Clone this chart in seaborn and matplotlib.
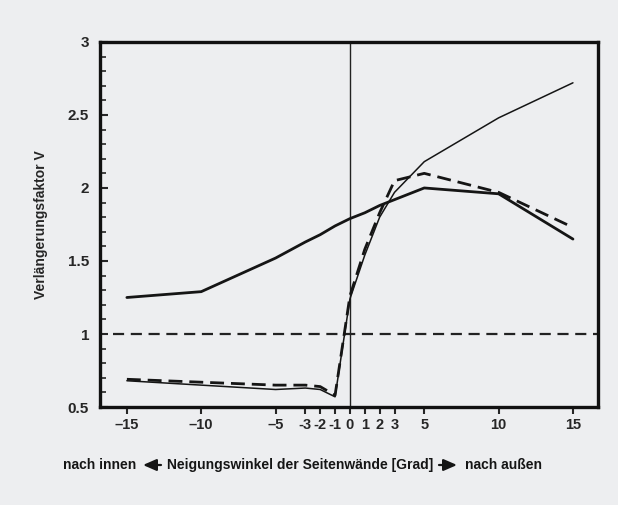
import matplotlib
matplotlib.use("Agg")
import matplotlib.pyplot as plt
from matplotlib.patches import FancyArrowPatch
from matplotlib.ticker import MultipleLocator
import pandas as pd
import seaborn as sns

# Neigungswinkel [Grad]
winkel = [-15, -10, -5, -3, -2, -1, 0, 1, 2, 3, 5, 10, 15]

# Verlaengerungsfaktor V
v_dick = [1.25, 1.29, 1.52, 1.63, 1.68, 1.74, 1.79, 1.83, 1.88, 1.92, 2.00, 1.96, 1.65]
v_duenn = [0.68, 0.65, 0.62, 0.63, 0.62, 0.57, 1.24, 1.54, 1.80, 1.97, 2.18, 2.48, 2.72]
v_gestr = [0.69, 0.67, 0.65, 0.65, 0.64, 0.58, 1.26, 1.58, 1.83, 2.05, 2.10, 1.97, 1.73]

tick_pos = [-15, -10, -5, -3, -2, -1, 0, 1, 2, 3, 5, 10, 15]
tick_lab = ['\u201315', '\u201310', '\u20135', '-3', '-2', '-1',
            '0', '1', '2', '3', '5', '10', '15']

df = pd.DataFrame({'winkel': winkel, 'dick': v_dick, 'duenn': v_duenn, 'gestr': v_gestr})

sns.set_style("ticks")
plt.rcParams['font.family'] = ['Liberation Sans', 'DejaVu Sans']
bg = '#edeef0'
ink = '#151515'

fig = plt.figure(figsize=(6.18, 5.05), dpi=100, facecolor=bg)
ax = fig.add_axes([0.162, 0.194, 0.806, 0.723])
ax.set_facecolor(bg)

# reference lines
ax.axvline(0, color='#222222', lw=1.0, zorder=1)
ax.axhline(1, xmin=0.025, xmax=1, color='#222222', lw=1.6, ls=(0, (5, 3)), zorder=1)

sns.lineplot(data=df, x='winkel', y='dick', ax=ax, color=ink, lw=2.0)
sns.lineplot(data=df, x='winkel', y='duenn', ax=ax, color=ink, lw=1.1)
sns.lineplot(data=df, x='winkel', y='gestr', ax=ax, color=ink, lw=2.0,
             linestyle=(0, (5, 2.5)))

ax.set_xlim(-16.8, 16.7)
ax.set_ylim(0.5, 3)
ax.set_xticks(tick_pos)
ax.set_xticklabels(tick_lab, fontweight='bold', fontsize=10.5)
ax.set_yticks([0.5, 1, 1.5, 2, 2.5, 3])
ax.set_yticklabels(['0.5', '1', '1.5', '2', '2.5', '3'], fontweight='bold', fontsize=11)
ax.yaxis.set_minor_locator(MultipleLocator(0.1))
ax.tick_params(axis='y', which='major', direction='in', length=6, width=1.5, pad=8)
ax.tick_params(axis='y', which='minor', direction='in', length=4, width=1.2)
ax.tick_params(axis='x', which='major', direction='out', length=5, width=1.5, pad=3)
for s in ax.spines.values():
    s.set_linewidth(2.4)
    s.set_color('#111111')

ax.set_xlabel('')
ax.set_ylabel('Verlängerungsfaktor V', fontweight='bold', fontsize=10, labelpad=14)

# x axis caption with arrows
W, H = 618, 505
yc = 1 - 465 / H
fig.text(136 / W, yc, 'nach innen', ha='right', va='center', fontsize=10,
         fontweight='bold', color=ink)
fig.text(300 / W, yc, 'Neigungswinkel der Seitenwände [Grad]', ha='center', va='center',
         fontsize=10, fontweight='bold', color=ink)
fig.text(465 / W, yc, 'nach außen', ha='left', va='center', fontsize=10,
         fontweight='bold', color=ink)
arrow = dict(arrowstyle='-|>,head_length=0.8,head_width=0.35', color=ink, lw=1.6,
             shrinkA=0, shrinkB=0, mutation_scale=10, transform=fig.transFigure)
fig.add_artist(FancyArrowPatch((161 / W, yc), (143 / W, yc), **arrow))
fig.add_artist(FancyArrowPatch((439 / W, yc), (457 / W, yc), **arrow))

fig.savefig('out.png', dpi=100, facecolor=bg)
